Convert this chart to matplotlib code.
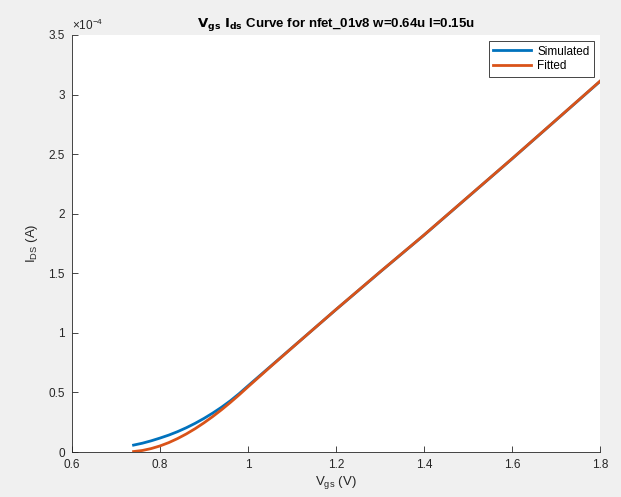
import numpy as np
import matplotlib
matplotlib.use("Agg")
import matplotlib.pyplot as plt
from matplotlib.ticker import FuncFormatter

plt.rcParams['font.family'] = ['Liberation Sans', 'DejaVu Sans']
plt.rcParams['mathtext.default'] = 'regular'

# gate voltage (V) and drain current (units of 1e-4 A)
vgs = [0.74, 0.76, 0.78, 0.80, 0.82, 0.84, 0.86, 0.88, 0.90, 0.92, 0.94, 0.96,
       0.98, 1.00, 1.05, 1.10, 1.15, 1.20, 1.30, 1.40, 1.50, 1.60, 1.70, 1.80]
ids_sim = [0.058, 0.074, 0.094, 0.117, 0.142, 0.171, 0.204, 0.241, 0.282, 0.327,
           0.376, 0.430, 0.490, 0.555, 0.715, 0.875, 1.035, 1.195, 1.510, 1.820,
           2.140, 2.460, 2.785, 3.110]
ids_fit = [0.004, 0.013, 0.029, 0.051, 0.079, 0.113, 0.152, 0.196, 0.245, 0.298,
           0.355, 0.416, 0.480, 0.547, 0.712, 0.874, 1.035, 1.196, 1.511, 1.821,
           2.141, 2.461, 2.786, 3.112]

blue = '#0072BD'
orange = '#D95319'
grey = '#262626'

fig = plt.figure(figsize=(6.21, 4.97), dpi=100, facecolor='#f0f0f0')
ax = fig.add_axes([0.1159, 0.0905, 0.8502, 0.8391])
ax.set_facecolor('white')

ax.plot(vgs, np.array(ids_sim) * 1e-4, color=blue, lw=2.0, label='Simulated')
ax.plot(vgs, np.array(ids_fit) * 1e-4, color=orange, lw=2.0, label='Fitted')

ax.set_xlim(0.6, 1.8)
ax.set_ylim(0, 3.5e-4)
ax.set_xticks([0.6, 0.8, 1.0, 1.2, 1.4, 1.6, 1.8])
ax.set_yticks(np.arange(0, 3.51e-4, 0.5e-4))
ax.xaxis.set_major_formatter(FuncFormatter(lambda v, p: f"{v:g}"))
ax.yaxis.set_major_formatter(FuncFormatter(lambda v, p: f"{round(v / 1e-4, 2):g}"))

for s in ['top', 'right']:
    ax.spines[s].set_visible(False)
for s in ['left', 'bottom']:
    ax.spines[s].set_color(grey)
    ax.spines[s].set_linewidth(0.6)
ax.tick_params(direction='in', length=4, width=0.6, colors=grey, labelsize=8.5, pad=5)

ax.text(0.0, 1.005, r'$\times10^{-4}$', transform=ax.transAxes, fontsize=8.5,
        color=grey, ha='left', va='bottom')

ax.set_xlabel(r'$V_{gs}$ (V)', fontsize=9.5, color=grey, labelpad=2)
ax.set_ylabel(r'$I_{DS}$ (A)', fontsize=9.5, color=grey, labelpad=6)
ax.set_title(r'$\mathbf{V_{gs}\ I_{ds}}$ Curve for nfet_01v8 w=0.64u l=0.15u',
             fontsize=9.5, fontweight='bold', color='black', pad=6)

leg = ax.legend(loc='upper right', fontsize=8.5, fancybox=False, framealpha=1,
                edgecolor='#262626', handlelength=3.2, borderpad=0.4,
                labelspacing=0.2, handletextpad=0.5)
leg.get_frame().set_linewidth(0.6)

fig.savefig('out.png', dpi=100, facecolor=fig.get_facecolor())
